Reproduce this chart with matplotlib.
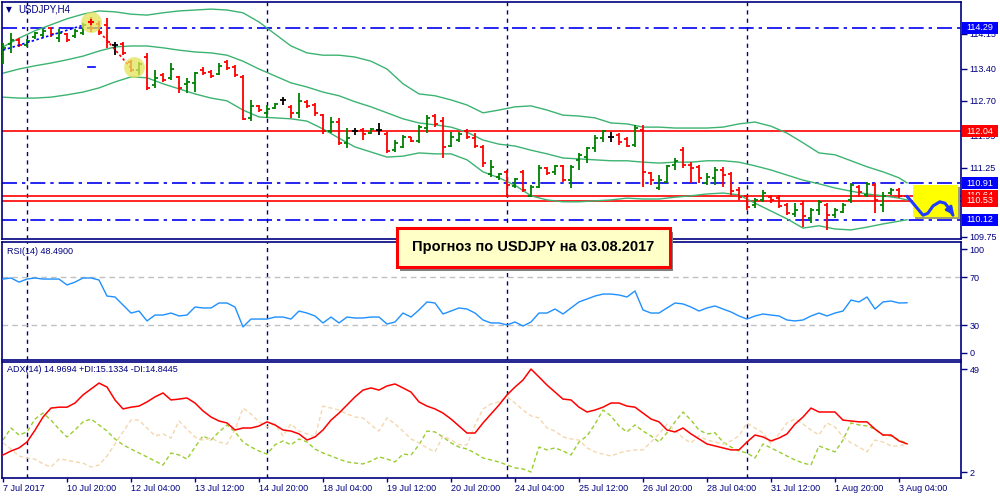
import matplotlib
matplotlib.use('Agg')
import matplotlib.pyplot as plt
from matplotlib.patches import Rectangle
from matplotlib.transforms import blended_transform_factory as btf
import numpy as np

plt.rcParams['font.family'] = ['Liberation Sans', 'DejaVu Sans']

# ---------------- data ----------------
time_labels = ["7 Jul 2017", "10 Jul 20:00", "12 Jul 04:00", "13 Jul 12:00", "14 Jul 20:00",
               "18 Jul 04:00", "19 Jul 12:00", "20 Jul 20:00", "24 Jul 04:00", "25 Jul 12:00",
               "26 Jul 20:00", "28 Jul 04:00", "31 Jul 12:00", "1 Aug 20:00", "3 Aug 04:00"]

ohlc = [
    (113.63, 113.95, 113.50, 113.85), (113.93, 114.17, 113.74, 114.02), (114.02, 114.06, 113.87, 113.91),
    (113.91, 114.04, 113.87, 114.00), (114.08, 114.19, 114.04, 114.17), (114.13, 114.26, 114.06, 114.21),
    (114.28, 114.30, 114.08, 114.15), (114.06, 114.26, 113.98, 114.17), (114.15, 114.17, 113.98, 114.02),
    (114.11, 114.26, 114.06, 114.21), (114.17, 114.39, 114.13, 114.35), (114.41, 114.52, 114.19, 114.28),
    (114.37, 114.43, 114.13, 114.19), (114.35, 114.50, 113.85, 113.98), (113.91, 113.98, 113.69, 113.91),
    (113.93, 113.98, 113.69, 113.74), (113.54, 113.59, 113.33, 113.37), (113.37, 113.54, 113.26, 113.50),
    (113.65, 113.74, 112.94, 112.98), (113.04, 113.37, 112.98, 113.20), (113.26, 113.30, 113.11, 113.15),
    (113.20, 113.52, 113.15, 113.39), (113.22, 113.24, 112.87, 112.98), (113.06, 113.20, 112.87, 113.11),
    (113.09, 113.33, 112.89, 113.30), (113.37, 113.43, 113.26, 113.30), (113.33, 113.37, 113.20, 113.24),
    (113.28, 113.52, 113.26, 113.46), (113.54, 113.59, 113.37, 113.41), (113.43, 113.48, 113.22, 113.26),
    (113.22, 113.26, 112.28, 112.31), (112.33, 112.72, 112.26, 112.59), (112.59, 112.61, 112.46, 112.50),
    (112.44, 112.61, 112.33, 112.52), (112.54, 112.65, 112.52, 112.63), (112.72, 112.78, 112.61, 112.72),
    (112.57, 112.61, 112.33, 112.44), (112.44, 112.87, 112.33, 112.70), (112.67, 112.72, 112.54, 112.59),
    (112.61, 112.65, 112.37, 112.44), (112.39, 112.41, 111.98, 112.05), (112.05, 112.35, 112.00, 112.24),
    (112.24, 112.33, 111.74, 111.79), (111.79, 112.11, 111.68, 111.89), (112.05, 112.11, 111.96, 112.05),
    (112.07, 112.11, 111.85, 111.98), (112.00, 112.11, 111.98, 112.09), (112.07, 112.22, 111.96, 112.07),
    (111.98, 112.02, 111.57, 111.61), (111.63, 111.85, 111.59, 111.78), (111.70, 111.96, 111.68, 111.91),
    (111.91, 111.91, 111.81, 111.83), (111.83, 112.18, 111.79, 112.13), (112.11, 112.39, 112.00, 112.33),
    (112.37, 112.41, 112.13, 112.20), (112.26, 112.35, 111.46, 111.70), (111.72, 112.02, 111.70, 111.91),
    (111.85, 112.02, 111.81, 111.98), (112.05, 112.09, 111.87, 111.91), (111.89, 112.00, 111.68, 111.72),
    (111.70, 111.74, 111.26, 111.35), (111.11, 111.42, 111.05, 111.26), (111.05, 111.13, 110.98, 111.11),
    (111.16, 111.20, 110.61, 110.87), (110.85, 111.03, 110.81, 111.00), (111.16, 111.20, 110.72, 110.77),
    (110.64, 110.87, 110.61, 110.83), (110.83, 111.31, 110.81, 111.24), (111.24, 111.26, 111.09, 111.13),
    (111.16, 111.31, 111.09, 111.29), (111.29, 111.31, 110.94, 110.98), (110.98, 111.31, 110.81, 111.26),
    (111.42, 111.57, 111.20, 111.52), (111.48, 111.70, 111.35, 111.68), (111.68, 111.96, 111.59, 111.89),
    (111.89, 112.07, 111.81, 112.05), (111.91, 112.02, 111.81, 111.91), (111.96, 112.00, 111.74, 111.81),
    (111.87, 111.91, 111.70, 111.72), (111.74, 112.18, 111.70, 112.11), (112.07, 112.18, 110.83, 111.16),
    (111.13, 111.16, 110.87, 110.98), (110.81, 111.09, 110.77, 110.98), (110.94, 111.31, 110.92, 111.29),
    (111.31, 111.46, 111.20, 111.39), (111.63, 111.70, 111.24, 111.31), (111.31, 111.37, 110.92, 111.24),
    (111.26, 111.31, 110.92, 111.03), (110.92, 111.13, 110.87, 111.05), (111.03, 111.26, 110.87, 111.20),
    (111.20, 111.26, 110.83, 111.09), (111.11, 111.16, 110.66, 110.74), (110.77, 110.83, 110.55, 110.61),
    (110.64, 110.66, 110.33, 110.40), (110.44, 110.59, 110.37, 110.55), (110.55, 110.77, 110.51, 110.70),
    (110.61, 110.66, 110.48, 110.55), (110.59, 110.66, 110.37, 110.42), (110.44, 110.48, 110.22, 110.27),
    (110.24, 110.48, 110.18, 110.33), (110.46, 110.53, 109.96, 110.20), (110.16, 110.37, 110.05, 110.33),
    (110.33, 110.55, 110.22, 110.51), (110.44, 110.48, 109.90, 110.22), (110.22, 110.37, 110.16, 110.33),
    (110.29, 110.48, 110.27, 110.44), (110.55, 110.92, 110.48, 110.87), (110.83, 110.87, 110.61, 110.72),
    (110.66, 110.94, 110.61, 110.90), (110.87, 110.92, 110.27, 110.55), (110.44, 110.72, 110.29, 110.64),
    (110.70, 110.81, 110.66, 110.77), (110.77, 110.81, 110.59, 110.64), (110.64, 110.66, 110.59, 110.59),
]
opens = [r[0] for r in ohlc]
highs = [r[1] for r in ohlc]
lows = [r[2] for r in ohlc]
closes = [r[3] for r in ohlc]

bb_idx = list(range(0, 113, 2)) + [113]
bb_upper = [113.87, 114.06, 114.22, 114.35, 114.48, 114.58, 114.65, 114.63, 114.58, 114.56,
            114.61, 114.65, 114.67, 114.69, 114.67, 114.61, 114.41, 114.15, 113.89, 113.74,
            113.69, 113.69, 113.65, 113.56, 113.39, 113.07, 112.85, 112.81, 112.72, 112.61,
            112.44, 112.50, 112.57, 112.59, 112.50, 112.39, 112.37, 112.33, 112.22, 112.20,
            112.13, 112.13, 112.11, 112.11, 112.11, 112.13, 112.20, 112.24, 112.15, 112.00,
            111.79, 111.57, 111.53, 111.40, 111.27, 111.16, 111.03, 110.92]
bb_middle = [113.30, 113.39, 113.46, 113.52, 113.59, 113.67, 113.78, 113.87, 113.89, 113.89,
             113.85, 113.80, 113.76, 113.74, 113.69, 113.56, 113.39, 113.24, 113.09, 113.00,
             112.89, 112.81, 112.68, 112.57, 112.44, 112.31, 112.22, 112.18, 112.13, 112.02,
             111.85, 111.76, 111.72, 111.63, 111.55, 111.46, 111.44, 111.42, 111.40, 111.40,
             111.37, 111.35, 111.37, 111.37, 111.40, 111.40, 111.37, 111.29, 111.20, 111.09,
             110.98, 110.90, 110.81, 110.74, 110.68, 110.64, 110.59, 110.55]
bb_lower = [112.78, 112.76, 112.76, 112.78, 112.83, 112.89, 112.98, 113.11, 113.22, 113.20,
            113.07, 112.96, 112.85, 112.76, 112.70, 112.50, 112.35, 112.33, 112.31, 112.26,
            112.09, 111.89, 111.70, 111.59, 111.48, 111.50, 111.57, 111.55, 111.55, 111.42,
            111.16, 111.03, 110.87, 110.64, 110.55, 110.51, 110.51, 110.53, 110.55, 110.59,
            110.57, 110.57, 110.61, 110.64, 110.68, 110.70, 110.66, 110.48, 110.31, 110.14,
            109.94, 109.99, 109.92, 109.90, 109.96, 110.03, 110.09, 110.12]

rsi = [68.6, 69.5, 66.0, 68.6, 69.5, 68.6, 68.6, 68.6, 63.6, 66.0,
       69.5, 69.5, 67.8, 54.2, 53.4, 46.6, 39.8, 41.5, 33.1, 38.1,
       38.1, 39.8, 37.3, 38.1, 44.9, 44.1, 44.1, 48.3, 48.3, 44.9,
       28.0, 34.7, 34.7, 34.7, 36.4, 36.4, 34.7, 41.5, 39.8, 37.3,
       31.4, 36.4, 31.4, 36.4, 35.6, 35.6, 36.4, 36.4, 30.5, 32.2,
       39.8, 36.4, 42.4, 49.2, 48.3, 39.0, 41.5, 44.1, 43.2, 39.8,
       33.9, 31.4, 31.4, 29.7, 32.2, 28.8, 32.2, 39.8, 39.8, 43.2,
       39.0, 44.1, 49.2, 51.7, 54.2, 55.9, 55.9, 55.1, 53.4, 58.5,
       42.4, 39.8, 39.8, 44.1, 48.3, 47.5, 44.9, 41.5, 44.1, 45.8,
       43.2, 40.7, 37.3, 34.7, 37.3, 39.0, 38.1, 37.3, 33.9, 33.1,
       33.9, 37.3, 39.8, 37.3, 39.8, 41.5, 50.8, 49.2, 53.4, 43.2,
       49.2, 50.0, 48.3, 48.49]

adx = [9.9, 11.7, 13.1, 15.8, 21.2, 27.2, 31.3, 31.7, 31.7, 33.6,
       37.3, 40.0, 42.7, 40.9, 35.0, 30.9, 31.7, 32.2, 34.1, 36.4,
       38.2, 35.0, 35.4, 35.9, 33.6, 30.0, 27.2, 25.4, 24.5, 21.3,
       22.2, 22.2, 23.1, 25.0, 23.6, 21.3, 20.8, 19.5, 16.7, 18.1,
       21.3, 25.8, 29.0, 32.7, 36.4, 39.5, 40.5, 39.5, 41.4, 42.3,
       40.5, 38.6, 34.1, 32.2, 30.9, 29.0, 26.3, 23.1, 19.9, 19.9,
       24.5, 28.6, 32.7, 37.3, 40.9, 44.1, 49.1, 45.5, 41.8, 38.6,
       35.4, 35.0, 31.7, 29.5, 30.4, 31.7, 33.6, 33.6, 32.2, 31.7,
       29.0, 26.3, 25.0, 21.3, 20.4, 22.2, 19.5, 17.2, 14.9, 14.0,
       13.1, 12.2, 12.2, 15.8, 19.0, 18.1, 16.3, 17.6, 19.5, 24.0,
       27.2, 31.3, 29.5, 29.5, 29.5, 25.8, 25.4, 25.0, 25.0, 21.7,
       19.0, 19.0, 16.3, 14.97]
plus_di = [16.7, 22.2, 19.0, 20.4, 26.3, 29.0, 25.8, 21.7, 18.1, 21.3,
           25.0, 26.3, 23.6, 20.8, 17.2, 14.5, 12.6, 10.8, 9.0, 7.1,
           5.3, 10.8, 9.9, 8.0, 13.5, 18.6, 16.7, 20.4, 23.6, 20.4,
           15.8, 13.5, 11.7, 10.3, 14.5, 16.3, 14.5, 17.2, 15.8, 12.6,
           10.8, 9.4, 8.0, 6.7, 6.2, 5.8, 7.1, 9.0, 8.0, 6.7,
           10.3, 9.9, 14.5, 20.8, 20.4, 18.1, 15.4, 13.5, 12.6, 10.8,
           8.5, 7.6, 6.7, 5.3, 4.0, 3.5, 2.1, 13.5, 12.2, 13.1,
           11.7, 9.9, 15.8, 18.6, 24.0, 30.4, 27.7, 23.1, 20.4, 23.6,
           20.8, 18.6, 15.8, 20.0, 25.0, 29.5, 25.8, 21.3, 19.5, 20.0,
           15.8, 13.5, 11.7, 10.8, 8.5, 14.9, 13.1, 11.3, 9.4, 7.6,
           6.2, 5.3, 14.0, 12.6, 11.3, 16.7, 24.5, 23.6, 23.1, 21.7,
           19.0, 18.6, 16.7, 15.13]
minus_di = [15.4, 12.6, 9.4, 8.5, 8.0, 5.8, 4.4, 8.0, 7.6, 6.7,
            6.2, 4.4, 5.3, 9.4, 14.9, 20.4, 25.8, 25.8, 22.2, 18.6,
            19.5, 17.6, 25.4, 21.7, 18.1, 16.7, 17.6, 15.8, 14.9, 21.3,
            31.3, 28.6, 25.0, 22.7, 24.0, 18.6, 24.0, 20.8, 19.5, 18.1,
            32.2, 31.3, 30.4, 28.6, 27.2, 26.8, 23.6, 20.8, 26.8, 24.0,
            20.8, 17.2, 15.4, 13.1, 11.3, 18.6, 16.7, 14.5, 14.5, 23.6,
            30.9, 33.2, 34.1, 36.4, 33.6, 30.4, 27.7, 26.8, 22.2, 20.8,
            18.1, 17.2, 16.7, 13.1, 11.3, 10.3, 9.4, 10.8, 11.7, 12.2,
            12.2, 15.8, 19.5, 24.0, 21.3, 17.6, 15.4, 18.6, 16.7, 15.8,
            14.9, 16.3, 18.6, 24.5, 22.2, 20.0, 14.9, 19.5, 24.5, 26.3,
            24.0, 21.3, 19.0, 24.5, 22.7, 18.1, 15.4, 13.5, 11.3, 16.7,
            15.8, 14.0, 14.0, 14.84]

level_prices = [114.29, 112.04, 110.91, 110.64, 110.53, 110.12]
level_kinds = ['blue', 'red', 'blue', 'red', 'red', 'blue']
price_ticks = [114.15, 113.40, 112.70, 111.95, 111.25, 109.75]
separators = [3, 33, 63, 93]
highlight_bars = [11, 16.4]
highlight_prices = [114.41, 113.43]
forecast_x = [113, 113.75, 115, 115.6, 116.25, 117.1, 117.75, 118.1, 118.75, 119.1]
forecast_y = [110.63, 110.48, 110.22, 110.26, 110.42, 110.51, 110.48, 110.40, 110.22, 110.17]
forecast_text = "Прогноз по USDJPY на 03.08.2017"

# ---------------- figure ----------------
NAVY = '#000080'
W, H = 1000, 500
fig = plt.figure(figsize=(10, 5), dpi=100)
fig.patch.set_facecolor('white')


def rect(l, t, r, b):
    return [l / W, 1 - b / H, (r - l) / W, (b - t) / H]


ax1 = fig.add_axes(rect(2, 2, 961, 239))
ax2 = fig.add_axes(rect(2, 242, 961, 360))
ax3 = fig.add_axes(rect(2, 362, 961, 478))

for ax in (ax1, ax2, ax3):
    ax.set_xlim(-0.125, 119.75)
    for s in ax.spines.values():
        s.set_color(NAVY)
        s.set_linewidth(1.2)
    ax.yaxis.tick_right()
    ax.tick_params(axis='y', colors=NAVY, length=4, width=1, labelsize=6.5, pad=2)
    ax.tick_params(axis='x', bottom=False, labelbottom=False)
    for s in separators:
        ax.axvline(s, color=NAVY, lw=1, ls=(0, (3, 3)), zorder=1)

# ---- main price panel ----
idx = np.arange(len(opens))
ax1.set_ylim(109.703, 114.844)
ax1.set_yticks(price_ticks)
ax1.set_yticklabels([f'{p:.2f}' for p in price_ticks])

for p, k in zip(level_prices, level_kinds):
    if k == 'blue':
        ax1.axhline(p, color='#0000EE', lw=1.2, ls=(0, (9, 3, 2, 3)), zorder=2)
    else:
        ax1.axhline(p, color='#FF0000', lw=1.2, zorder=2)

ax1.plot(bb_idx, bb_upper, color='#3CB371', lw=1, zorder=2.5)
ax1.plot(bb_idx, bb_middle, color='#3CB371', lw=1, zorder=2.5)
ax1.plot(bb_idx, bb_lower, color='#3CB371', lw=1, zorder=2.5)

cols = ['#008000' if c > o else ('#FF0000' if c < o else '#000000') for o, c in zip(opens, closes)]
ax1.vlines(idx, lows, highs, colors=cols, lw=1.3, zorder=3)
ax1.hlines(opens, idx - 0.4, idx, colors=cols, lw=1.3, zorder=3)
ax1.hlines(closes, idx, idx + 0.4, colors=cols, lw=1.3, zorder=3)

# annotations on price chart
ax1.plot(highlight_bars, highlight_prices, 'o', ms=15, color='#E4E45A', alpha=0.75, mec='none', zorder=4)
ax1.plot([highlight_bars[0]], [highlight_prices[0]], '+', color='#FF0000', ms=5, mew=1.5, zorder=5)
ax1.plot([0, 10], [113.80, 114.34], color='#0000FF', lw=1.2, ls=(0, (1.5, 1.5)), zorder=3)
ax1.plot([12.1, 15.9], [114.19, 113.43], color='#FF0000', lw=1.2, ls=(0, (1.5, 1.5)), zorder=3)
ax1.plot([10.6, 11.5], [113.43, 113.43], color='#0000FF', lw=1.2, zorder=3)

ax1.add_patch(Rectangle((114.0, 110.14), 5.65, 0.69, fc='#A0A070', ec='none', zorder=6))
ax1.add_patch(Rectangle((113.75, 110.18), 5.65, 0.69, fc='#FFFF00', ec='none', zorder=6.5))
ax1.plot(forecast_x[:-1], forecast_y[:-1], color='#1E3CFF', lw=2.2, zorder=8, solid_capstyle='round')
ax1.annotate('', xy=(forecast_x[-1], forecast_y[-1]), xytext=(forecast_x[-3], forecast_y[-3]),
             arrowprops=dict(arrowstyle='-|>', color='#1E3CFF', lw=2, mutation_scale=11), zorder=8)

tb = btf(ax1.transAxes, ax1.transData)


def price_box(price, fc, z):
    x0 = (962 - 2) / 959
    w = 36 / 959
    h = 12 / 46.1
    ax1.add_patch(Rectangle((x0, price - h / 2), w, h, transform=tb, fc=fc, ec='none',
                            clip_on=False, zorder=z))
    ax1.text(x0 + w / 2, price, f'{price:.2f}', transform=tb, color='white', fontsize=6.5,
             ha='center', va='center', zorder=z + 0.1, clip_on=False)


for zz, (p, k) in enumerate(zip(level_prices, level_kinds)):
    price_box(p, '#0000FF' if k == 'blue' else '#FF0000', 10 + zz)

# ---- RSI panel ----
ax2.set_ylim(0, 100)
ax2.axhline(70, color='#C0C0C0', lw=1, ls=(0, (4, 3)), zorder=1)
ax2.axhline(30, color='#C0C0C0', lw=1, ls=(0, (4, 3)), zorder=1)
ax2.plot(idx, rsi, color='#1E90FF', lw=1, zorder=3)
ax2.set_yticks([94, 70, 29.5, 6])
ax2.set_yticklabels(['100', '70', '30', '0'])

# ---- ADX panel ----
ax3.set_ylim(-0.63, 52.33)
ax3.plot(idx, plus_di, color='#9ACD32', lw=1, ls=(0, (3, 2)), zorder=2)
ax3.plot(idx, minus_di, color='#F5D7AE', lw=1, ls=(0, (3, 2)), zorder=2)
ax3.plot(idx, adx, color='#FF0000', lw=1.1, zorder=3)
ax3.set_yticks([49, 2])
ax3.set_yticklabels(['49', '2'])
ax3.tick_params(axis='x', bottom=True, labelbottom=True, colors=NAVY, length=3, width=1,
                pad=1.5, labelsize=6.5)
ax3.set_xticks(range(0, 113, 8))
ax3.set_xticklabels(time_labels, ha='left')

# ---- panel captions ----
fig.text(6 / W, 1 - 10 / H, '▼', color=NAVY, fontsize=5.5, va='center', family='DejaVu Sans')
fig.text(18 / W, 1 - 10 / H, 'USDJPY,H4', color=NAVY, fontsize=7, va='center')
fig.text(7 / W, 1 - 251 / H, 'RSI(14) 48.4900', color=NAVY, fontsize=6.5, va='center')
fig.text(7 / W, 1 - 370 / H, 'ADX(14) 14.9694 +DI:15.1334 -DI:14.8445', color=NAVY,
         fontsize=6.5, va='center')

# ---- forecast banner ----
fig.add_artist(Rectangle((400 / W, 1 - 271 / H), 273 / W, 39 / H, transform=fig.transFigure,
                         fc='#7F7F7F', ec='none', zorder=20))
fig.add_artist(Rectangle((397 / W, 1 - 267 / H), 273 / W, 39 / H, transform=fig.transFigure,
                         fc='#FFFFC8', ec='#FF0000', lw=2.2, zorder=21))
fig.text(533.5 / W, 1 - 247.5 / H, forecast_text, fontsize=10.5, fontweight='bold',
         color='black', ha='center', va='center', zorder=22)

fig.savefig('out.png', dpi=100)
